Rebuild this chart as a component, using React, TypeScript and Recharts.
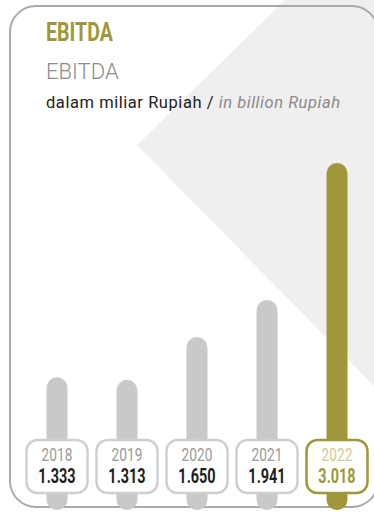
import React from "react";
import { BarChart, Bar, XAxis, YAxis } from "recharts";

// EBITDA, dalam miliar Rupiah
const years = ["2018", "2019", "2020", "2021", "2022"];
const ebitda = [1333, 1313, 1650, 1941, 3018];
const valueLabels = ["1.333", "1.313", "1.650", "1.941", "3.018"];
const highlightYear = "2022";

const data = years.map((year, i) => ({ year, ebitda: ebitda[i], label: valueLabels[i] }));

const OLIVE = "#a0973a";
const OLIVE_LIGHT = "#d3cc92";
const GREY_BAR = "#c8c9cb";
const SANS = "Roboto, 'Noto Sans', sans-serif";
// no condensed face installed, so squeeze Roboto horizontally
const SQUEEZE = 0.74;

// pill bar with the year / value badge sitting near its foot
const PillBar = (props: any) => {
  const { x, y, width, height, payload } = props;
  if (width == null || height == null) return null;
  const hot = payload.year === highlightYear;
  const cx = x + width / 2;
  const boxTop = y + height - 70;
  return (
    <g>
      <rect x={x} y={y} width={width} height={height} rx={width / 2} fill={hot ? OLIVE : GREY_BAR} />
      <rect
        x={cx - 30.5}
        y={boxTop}
        width={61}
        height={53}
        rx={11}
        fill="#fff"
        stroke={hot ? OLIVE : "#cfcfd0"}
        strokeWidth={2.5}
      />
      <text
        transform={`translate(${cx},${boxTop + 21}) scale(${SQUEEZE},1)`}
        textAnchor="middle"
        fontFamily={SANS}
        fontSize={18.5}
        fill={hot ? OLIVE_LIGHT : "#9a9a9a"}
      >
        {payload.year}
      </text>
      <text
        transform={`translate(${cx},${boxTop + 43}) scale(${SQUEEZE},1)`}
        textAnchor="middle"
        fontFamily={SANS}
        fontWeight="bold"
        fontSize={19.5}
        fill={hot ? OLIVE : "#1e1e1e"}
      >
        {payload.label}
      </text>
    </g>
  );
};

export default function App() {
  return (
    <div style={{ position: "absolute", left: 0, top: 0, width: 374, height: 512, background: "#fff", overflow: "hidden" }}>
      <svg width={374} height={512} style={{ position: "absolute", left: 0, top: 0 }}>
        <defs>
          <linearGradient id="edgeShade" gradientUnits="userSpaceOnUse" x1={262} y1={252} x2={248} y2={266}>
            <stop offset="0%" stopColor="#efefef" />
            <stop offset="100%" stopColor="#ffffff" stopOpacity={0} />
          </linearGradient>
        </defs>
        <polygon points="285,0 374,0 374,386 137,145" fill="#efefef" />
        <polygon points="170,179 374,386 374,404 160,190" fill="url(#edgeShade)" />
        <rect x={10} y={6} width={368} height={501} rx={26} fill="none" stroke="#a9a9a9" strokeWidth={2} />
        <text transform={`translate(46,41) scale(${SQUEEZE},1)`} fontFamily={SANS} fontWeight="bold" fontSize={26.5} fill={OLIVE}>
          EBITDA
        </text>
        <text x={46} y={79} fontFamily={SANS} fontWeight={300} fontSize={22} fill="#8c8c8c">
          EBITDA
        </text>
        <text x={46} y={108} fontFamily={SANS} fontSize={16.5} letterSpacing={0.55} fill="#222">
          dalam miliar Rupiah /{" "}
          <tspan fontStyle="italic" fill="#8a8a8a">
            in billion Rupiah
          </tspan>
        </text>
      </svg>
      <div style={{ position: "absolute", left: 0, top: 0 }}>
        <BarChart width={374} height={512} data={data} margin={{ top: 10, right: 2.5, bottom: 2, left: 21.5 }}>
          <XAxis dataKey="year" hide />
          <YAxis hide domain={[290, 4220]} />
          <Bar dataKey="ebitda" barSize={21} shape={<PillBar />} isAnimationActive={false} />
        </BarChart>
      </div>
    </div>
  );
}
